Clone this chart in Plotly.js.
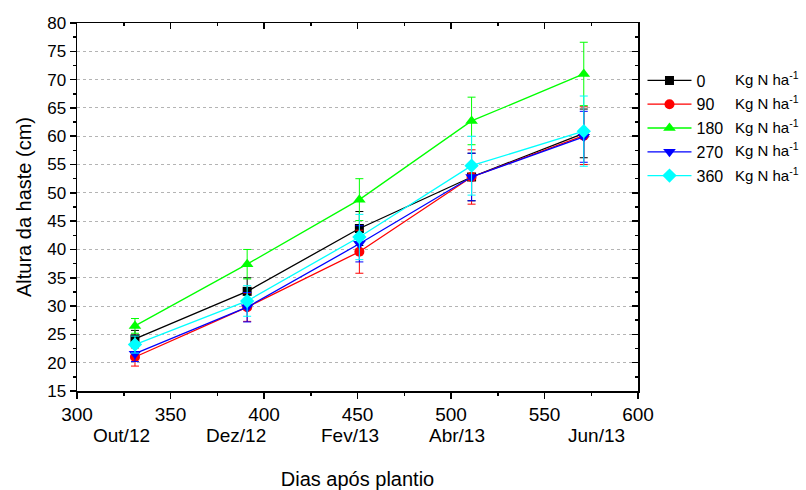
<!DOCTYPE html>
<html>
<head>
<meta charset="utf-8">
<script src="https://cdn.plot.ly/plotly-3.0.1.min.js"></script>
<style>html,body{margin:0;padding:0;background:#fff;}#chart{width:806px;height:490px;}</style>
</head>
<body>
<div id="chart"></div>
<script>
// Days after planting
const days = [331, 391, 451, 511, 571];
// Month labels shown under the x tick labels (centre positions in days)
const monthLabels = ["Out/12", "Dez/12", "Fev/13", "Abr/13", "Jun/13"];
const monthPos = [324, 385, 446, 503, 578];

const doses = ["0", "90", "180", "270", "360"];
const unitLabel = "Kg N ha<sup>-1</sup>";
const h0   = [24.2, 32.6, 43.7, 52.8, 60.5];
const h90  = [21.0, 29.8, 39.6, 52.8, 60.1];
const h180 = [26.5, 37.4, 48.8, 62.7, 71.0];
const h270 = [21.6, 29.8, 41.0, 52.8, 59.9];
const h360 = [23.2, 30.9, 42.2, 54.8, 60.9];

const e0   = [1.5, 2.4, 3.0, 4.2, 4.3];
const e90  = [1.6, 2.5, 3.8, 4.8, 5.1];
const e180 = [1.3, 2.6, 3.7, 4.2, 5.6];
const e270 = [1.4, 2.6, 3.2, 4.2, 4.5];
const e360 = [1.5, 2.7, 4.0, 5.2, 6.2];

const series = [h0, h90, h180, h270, h360];
const errs = [e0, e90, e180, e270, e360];
const colors = ["#000000", "#ff0000", "#00ff00", "#0000ff", "#00ffff"];
const symbols = ["square", "circle", "triangle-up", "triangle-down", "diamond"];
const msizes = [9, 10, 11, 11, 11];

const traces = series.map((ys, i) => ({
  x: days, y: ys, type: "scatter", mode: "lines+markers",
  name: doses[i],
  line: {color: colors[i], width: 1.3},
  marker: {color: colors[i], symbol: symbols[i], size: msizes[i]},
  error_y: {type: "data", array: errs[i], visible: true, color: colors[i], thickness: 1, width: 4}
}));
traces.push({x: [300], y: [15], xaxis: "x2", yaxis: "y2", mode: "markers",
  marker: {opacity: 0}, showlegend: false, hoverinfo: "skip"});

const font = {family: "Liberation Sans, Arial, sans-serif", color: "#000"};
const F = s => Object.assign({size: s}, font);

const annotations = monthLabels.map((t, i) => ({
  x: monthPos[i], y: -0.122, xref: "x", yref: "paper", text: t, showarrow: false,
  xanchor: "center", yanchor: "middle", font: F(19)
}));
// unit text column of the legend
const legendRowsY = [0.848, 0.785, 0.720, 0.655, 0.587];
doses.forEach((d, i) => annotations.push({
  x: 1.17, y: legendRowsY[i], xref: "paper", yref: "paper", text: unitLabel, showarrow: false,
  xanchor: "left", yanchor: "middle", font: F(15)
}));

const axBase = {showline: true, linecolor: "#000", linewidth: 1.5, zeroline: false, mirror: false};
const tk = {tickcolor: "#000", tickwidth: 1.5};

const layout = {
  width: 806, height: 490,
  margin: {l: 77, r: 168, t: 23, b: 99},
  paper_bgcolor: "#fff", plot_bgcolor: "#fff",
  font: F(18),
  showlegend: true,
  legend: {x: 1.008, y: 0.89, xanchor: "left", yanchor: "top", font: F(16),
           itemwidth: 44, bgcolor: "rgba(0,0,0,0)", tracegroupgap: 0},
  xaxis: Object.assign({}, axBase, tk, {
    range: [300, 600], tickmode: "linear", tick0: 300, dtick: 50,
    ticks: "outside", ticklen: 6,
    minor: Object.assign({ticks: "outside", ticklen: 3, dtick: 25, tick0: 300}, tk),
    showgrid: false, tickfont: F(19),
    title: {text: "Dias após plantio", font: F(20), standoff: 47}
  }),
  yaxis: Object.assign({}, axBase, tk, {
    range: [15, 80], tickmode: "linear", tick0: 15, dtick: 5,
    ticks: "outside", ticklen: 6,
    minor: Object.assign({ticks: "outside", ticklen: 3, dtick: 2.5, tick0: 15}, tk),
    showgrid: true, gridcolor: "#b4b4b4", griddash: "dot", gridwidth: 1,
    tickfont: F(17),
    title: {text: "Altura da haste (cm)", font: F(20), standoff: 10}
  }),
  xaxis2: Object.assign({}, axBase, tk, {
    overlaying: "x", side: "top", range: [300, 600], tickmode: "linear", tick0: 300, dtick: 50,
    ticks: "inside", ticklen: 6, showticklabels: false,
    minor: Object.assign({ticks: "inside", ticklen: 3, dtick: 25, tick0: 300}, tk),
    showgrid: false
  }),
  yaxis2: Object.assign({}, axBase, tk, {
    overlaying: "y", side: "right", range: [15, 80], tickmode: "linear", tick0: 15, dtick: 5,
    ticks: "inside", ticklen: 6, showticklabels: false,
    minor: Object.assign({ticks: "inside", ticklen: 3, dtick: 2.5, tick0: 15}, tk),
    showgrid: false
  }),
  annotations: annotations
};

Plotly.newPlot("chart", traces, layout, {displayModeBar: false, staticPlot: true});
</script>
</body>
</html>
